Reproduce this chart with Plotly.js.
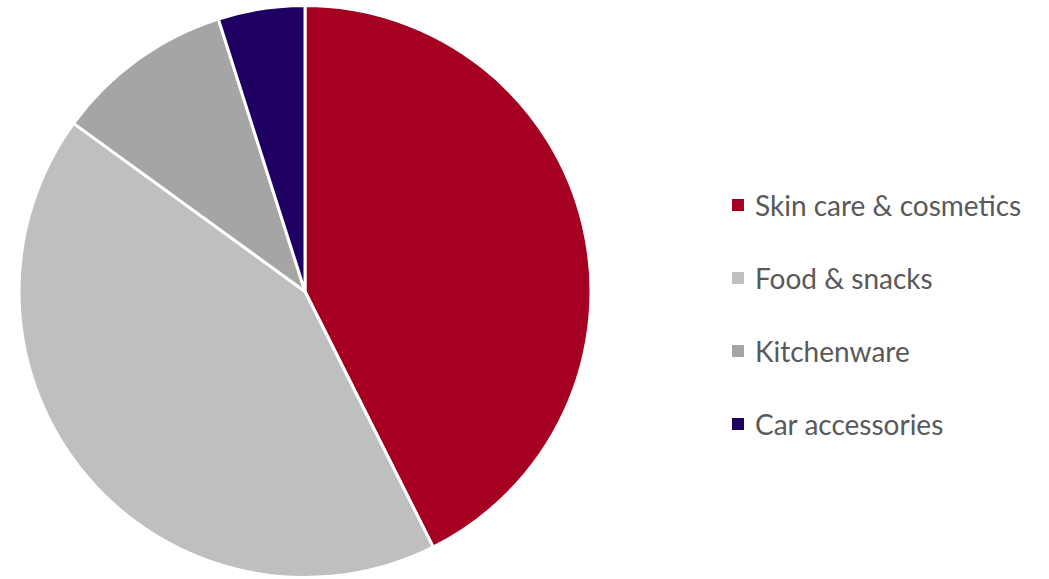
<!DOCTYPE html>
<html>
<head>
<meta charset="utf-8">
<script src="https://cdn.plot.ly/plotly-3.0.1.min.js"></script>
<style>html,body{margin:0;padding:0;background:#fff;}#chart{width:1049px;height:579px;}</style>
</head>
<body>
<div id="chart"></div>
<script>
const categories = ["Skin care & cosmetics", "Food & snacks", "Kitchenware", "Car accessories"];
const shares = [42.6, 42.4, 10.1, 4.9];
const colors = ["#A50021", "#BFBFBF", "#A5A5A5", "#1F0062"];

const W = 1049, H = 579;
const legendX = 732, legendTextX = 753, legendY0 = 205, legendStep = 73, sq = 12;

const annotations = categories.map((c, i) => ({
  xref: "paper", yref: "paper",
  x: legendTextX / W, y: 1 - (legendY0 + i * legendStep) / H,
  xanchor: "left", yanchor: "middle",
  text: c, showarrow: false,
  font: {family: "Lato, 'Open Sans', sans-serif", size: 28, color: "#595959"}
}));
const shapes = categories.map((c, i) => ({
  type: "rect", xref: "paper", yref: "paper",
  x0: legendX / W, x1: (legendX + sq) / W,
  y0: 1 - (legendY0 + i * legendStep + sq / 2) / H,
  y1: 1 - (legendY0 + i * legendStep - sq / 2) / H,
  fillcolor: colors[i], line: {width: 0}
}));

Plotly.newPlot("chart", [{
  type: "pie",
  labels: categories,
  values: shares,
  sort: false,
  direction: "clockwise",
  rotation: 0,
  marker: {colors: colors, line: {color: "#FFFFFF", width: 3}},
  textinfo: "none",
  hoverinfo: "label+percent",
  domain: {x: [19 / W, 591 / W], y: [1 / H, 574 / H]},
  showlegend: false
}], {
  width: W, height: H,
  margin: {l: 0, r: 0, t: 0, b: 0},
  paper_bgcolor: "#FFFFFF",
  showlegend: false,
  annotations: annotations,
  shapes: shapes
}, {displayModeBar: false, staticPlot: true});
</script>
</body>
</html>
